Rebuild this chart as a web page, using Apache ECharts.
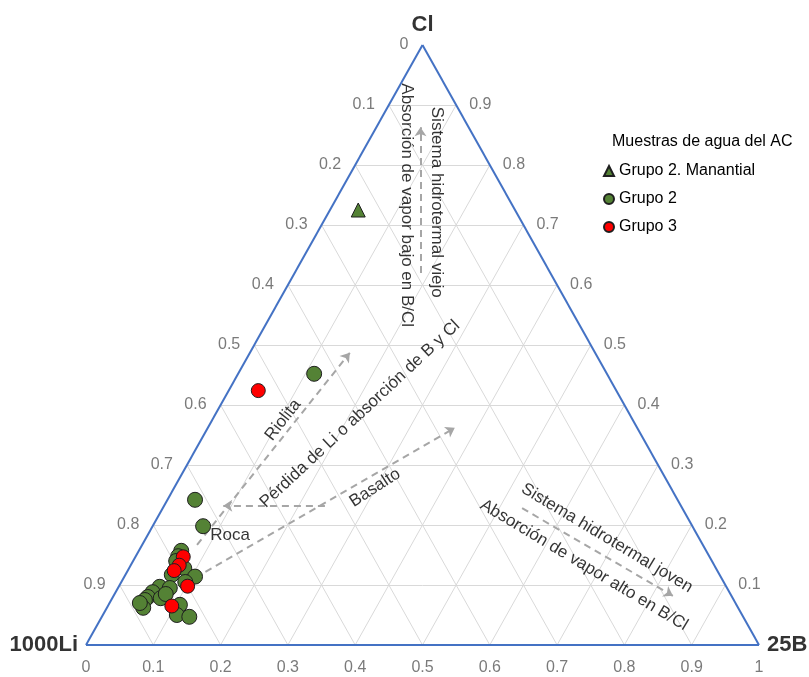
<!DOCTYPE html>
<html><head><meta charset="utf-8">
<script src="https://cdn.jsdelivr.net/npm/echarts@6/dist/echarts.min.js"></script>
<style>html,body{margin:0;padding:0;background:#fff}#c{width:809px;height:677px}</style>
</head><body><div id="c"></div>
<script>
// Ternary compositions [1000Li, 25B, Cl] as fractions
const grupo2Manantial = [[0.233, 0.042, 0.725]];
const grupo2 = [
  [0.435, 0.113, 0.452], [0.717, 0.041, 0.242], [0.727, 0.075, 0.198],
  [0.781, 0.063, 0.157], [0.789, 0.063, 0.148], [0.796, 0.064, 0.140],
  [0.790, 0.082, 0.128], [0.814, 0.069, 0.117], [0.781, 0.105, 0.114],
  [0.800, 0.095, 0.105], [0.842, 0.061, 0.097], [0.828, 0.077, 0.095],
  [0.857, 0.055, 0.088], [0.868, 0.052, 0.080], [0.875, 0.050, 0.075],
  [0.850, 0.072, 0.078], [0.839, 0.076, 0.085], [0.884, 0.054, 0.062],
  [0.885, 0.045, 0.070], [0.827, 0.106, 0.067], [0.840, 0.110, 0.050],
  [0.823, 0.130, 0.047]
];
const grupo3 = [
  [0.532, 0.044, 0.424], [0.782, 0.071, 0.147], [0.795, 0.072, 0.133],
  [0.807, 0.069, 0.124], [0.800, 0.102, 0.098], [0.840, 0.095, 0.065]
];
const tickValues = [0, 0.1, 0.2, 0.3, 0.4, 0.5, 0.6, 0.7, 0.8, 0.9, 1];
const tickLabels = ['0','0.1','0.2','0.3','0.4','0.5','0.6','0.7','0.8','0.9','1'];
const vertexNames = ['Cl', '1000Li', '25B'];
const seriesNames = ['Grupo 2. Manantial', 'Grupo 2', 'Grupo 3'];

const FONT = 'Liberation Sans';
function toXY(p){ const b = p[1], cl = p[2]; return [b + cl / 2, cl]; }

// grid lines
const gridLines = [];
for (let i = 1; i <= 9; i++) {
  const t = tickValues[i];
  gridLines.push({coords: [[t/2, t], [1 - t/2, t]]});          // constant Cl
  gridLines.push({coords: [[t, 0], [t + (1 - t)/2, 1 - t]]});  // constant B
  gridLines.push({coords: [[t, 0], [t/2, t]]});                // constant Li
}
const border = [
  {coords: [[0,0],[1,0]]}, {coords: [[1,0],[0.5,1]]}, {coords: [[0.5,1],[0,0]]}
];
// annotation arrows (plot coordinates)
const arrows = [
  {coords: [[0.497, 0.62], [0.497, 0.863]]},
  {coords: [[0.165, 0.167], [0.392, 0.487]]},
  {coords: [[0.355, 0.232], [0.204, 0.232]]},
  {coords: [[0.162, 0.112], [0.548, 0.362]]},
  {coords: [[0.648, 0.228], [0.872, 0.082]]}
];
const notes = [
  ['Sistema hidrotermal viejo', 0.5215, 0.738, -90],
  ['Absorción de vapor bajo en B/Cl', 0.477, 0.733, -90],
  ['Riolita', 0.2927, 0.375, 52],
  ['Pérdida de Li o absorción de B y Cl', 0.4071, 0.385, 43],
  ['Basalto', 0.4294, 0.262, 33],
  ['Roca', 0.214, 0.1833, 0],
  ['Sistema hidrotermal joven', 0.7741, 0.178, -31],
  ['Absorción de vapor alto en B/Cl', 0.74, 0.133, -31]
];

const bottomTicks = tickValues.map((v, i) => ({value: [v, 0], name: tickLabels[i]}));
const leftTicks = tickValues.slice(0, 10).map((v, i) => ({value: [(1 - v)/2, 1 - v], name: tickLabels[i]}));
const rightTicks = tickValues.slice(1, 10).map((v, i) => ({value: [1 - v/2, v], name: tickLabels[i + 1]}));

function labelSeries(data, label){
  return {type:'scatter', symbolSize:0, silent:true, data:data, z:5,
    label: Object.assign({show:true, formatter: p => p.name, fontFamily: FONT}, label)};
}

const chart = echarts.init(document.getElementById('c'));
chart.setOption({
  animation: false,
  backgroundColor: '#fff',
  title: {text: 'Muestras de agua del AC', left: 612, top: 134, padding: 0,
    textStyle: {fontSize: 16, fontWeight: 'normal', color: '#000', fontFamily: FONT}},
  legend: {orient: 'vertical', left: 603, top: 162, padding: 0, itemWidth: 10, itemHeight: 10, itemGap: 10,
    textStyle: {fontSize: 16, color: '#000', lineHeight: 18, fontFamily: FONT},
    data: [{name: seriesNames[0], icon: 'triangle'}, {name: seriesNames[1], icon: 'circle'}, {name: seriesNames[2], icon: 'circle'}]},
  grid: {left: 86, right: 50, top: 45, bottom: 32},
  xAxis: {type: 'value', min: 0, max: 1, show: false},
  yAxis: {type: 'value', min: 0, max: 1, show: false},
  series: [
    {type:'lines', coordinateSystem:'cartesian2d', silent:true, z:1, data: gridLines,
      lineStyle:{color:'#d9d9d9', width:1, opacity:1}},
    {type:'lines', coordinateSystem:'cartesian2d', silent:true, z:2, data: border,
      lineStyle:{color:'#4472c4', width:2, opacity:1}},
    {type:'lines', coordinateSystem:'cartesian2d', silent:true, z:3, data: arrows,
      symbol:['none','arrow'], symbolSize:9,
      lineStyle:{color:'#a6a6a6', width:2, type:[7,5], opacity:1}},
    labelSeries(bottomTicks, {position:'bottom', distance:15, fontSize:16, color:'#595959'}),
    labelSeries(leftTicks, {position:'left', distance:14, fontSize:16, color:'#595959'}),
    labelSeries(rightTicks, {position:'right', distance:13, fontSize:16, color:'#595959'}),
    labelSeries([{value:[0.5,1], name:vertexNames[0]}], {position:'top', distance:9, fontSize:22, fontWeight:'bold', color:'#000'}),
    labelSeries([{value:[0,0], name:vertexNames[1]}], {position:'left', distance:8, fontSize:22, fontWeight:'bold', color:'#000'}),
    labelSeries([{value:[1,0], name:vertexNames[2]}], {position:'right', distance:8, fontSize:22, fontWeight:'bold', color:'#000'}),
    labelSeries(notes.map(n => ({value:[n[1], n[2]], name:n[0], label:{rotate:n[3]}})),
      {position:'inside', align:'center', verticalAlign:'middle', fontSize:17, color:'#000'}),
    {name: seriesNames[0], type:'scatter', symbol:'triangle', symbolSize:14, z:10,
      data: grupo2Manantial.map(toXY),
      itemStyle:{color:'#548235', borderColor:'#1f1f1f', borderWidth:1, opacity:1}},
    {name: seriesNames[1], type:'scatter', symbol:'circle', symbolSize:15, z:10,
      data: grupo2.map(toXY),
      itemStyle:{color:'#548235', borderColor:'#1f1f1f', borderWidth:1, opacity:1}},
    {name: seriesNames[2], type:'scatter', symbol:'circle', symbolSize:14, z:11,
      data: grupo3.map(toXY),
      itemStyle:{color:'#ff0000', borderColor:'#1f1f1f', borderWidth:1, opacity:1}}
  ]
});
</script></body></html>
